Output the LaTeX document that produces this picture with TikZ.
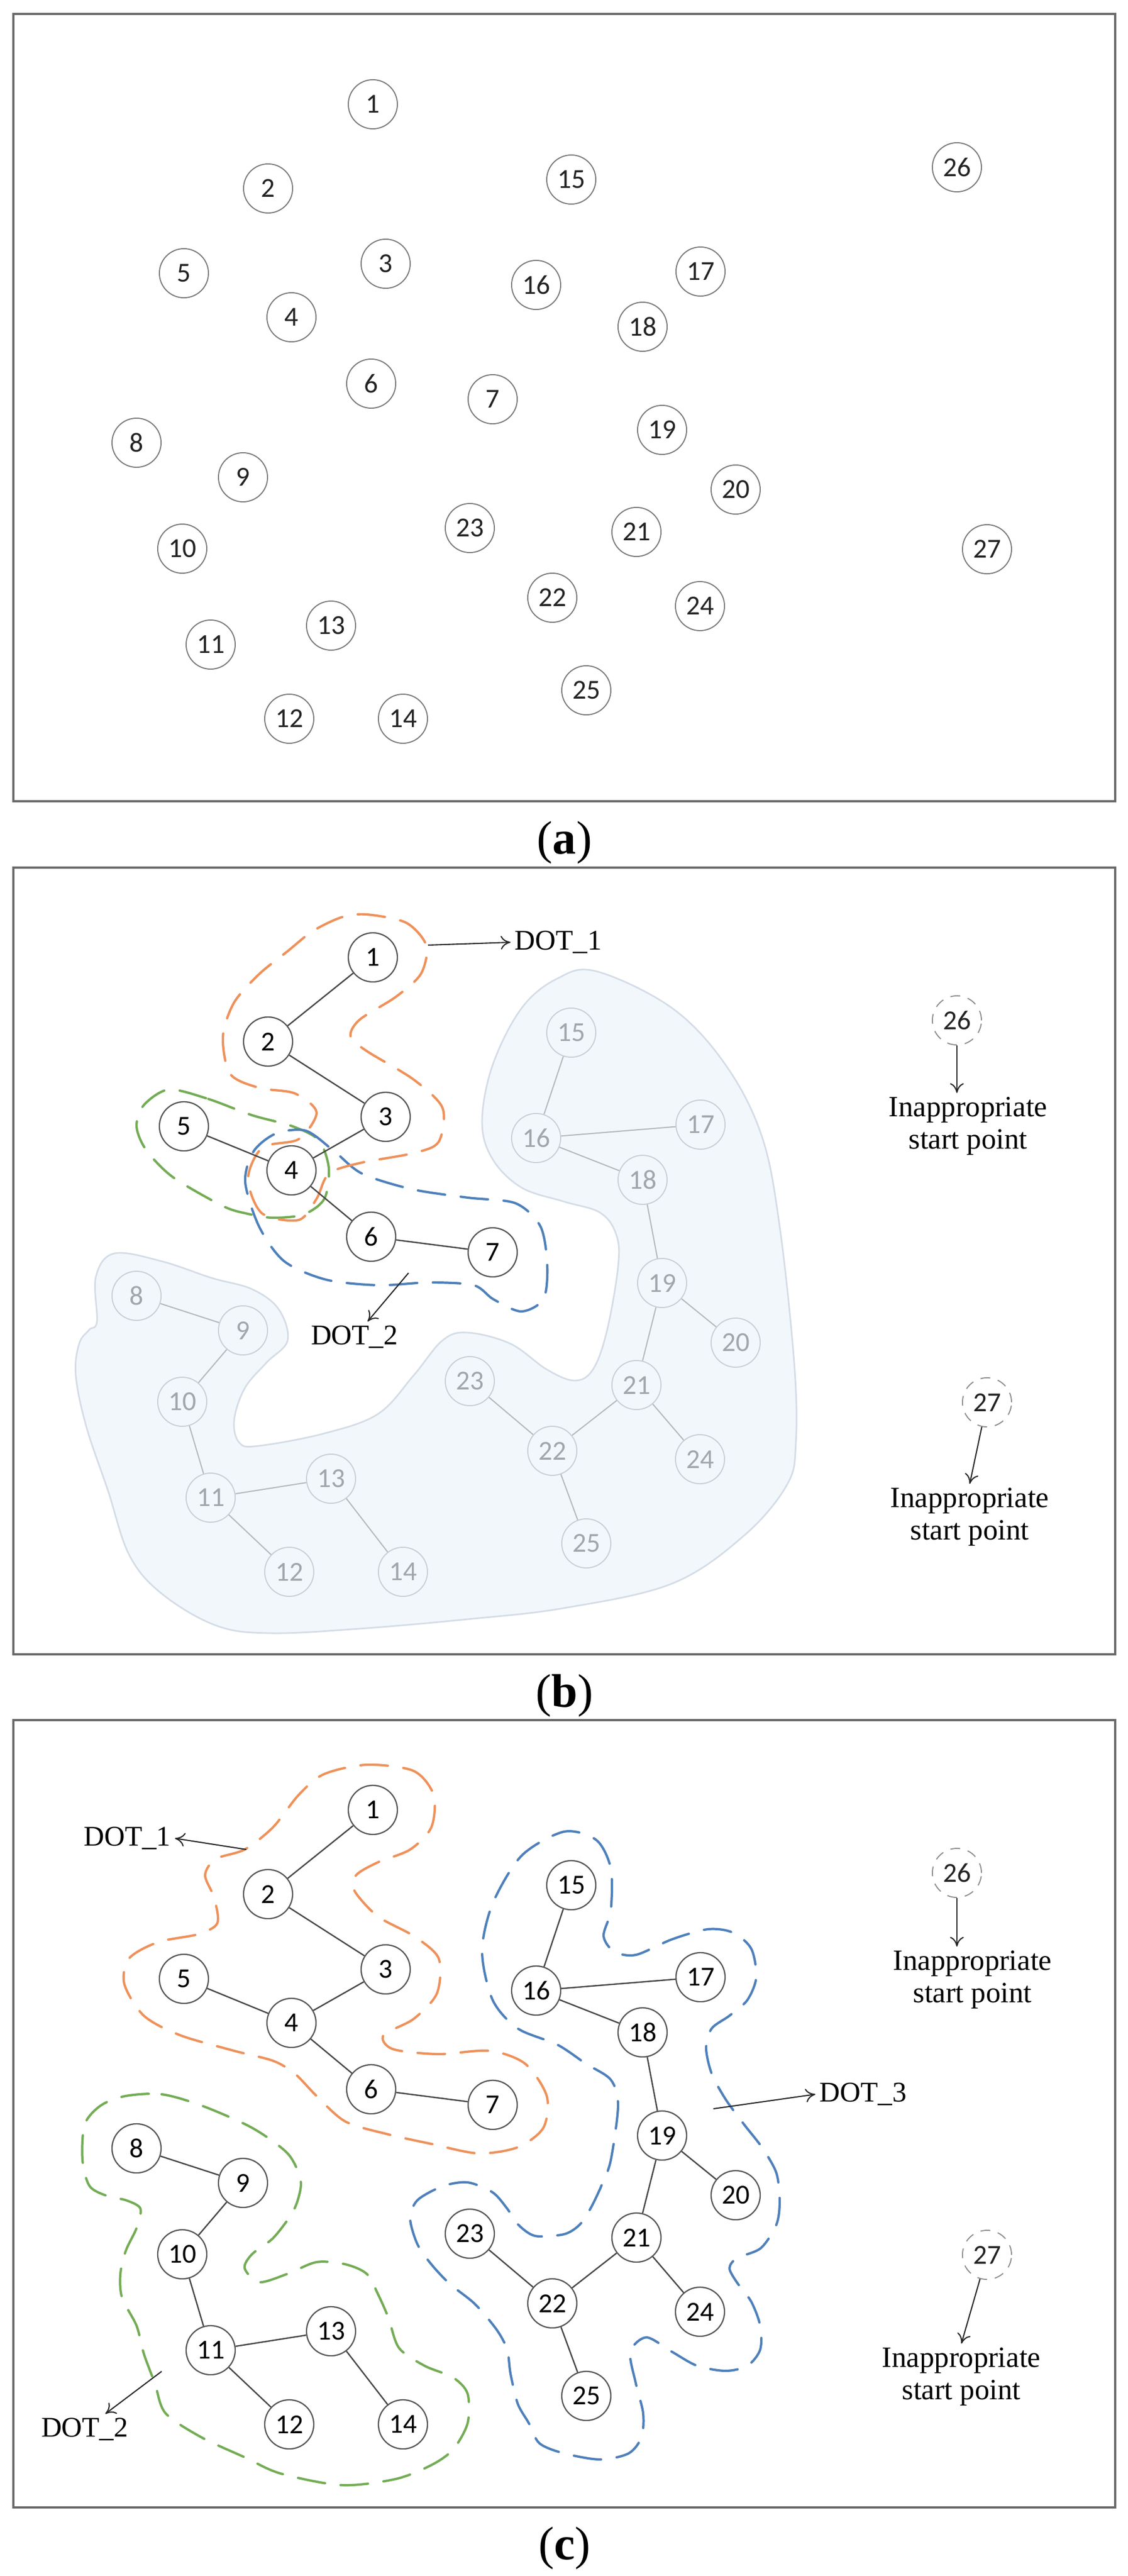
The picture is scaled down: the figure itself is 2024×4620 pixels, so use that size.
\documentclass[tikz,border=0pt]{standalone}
\usepackage{fontspec}
\setmainfont{Liberation Serif}
\newfontfamily\nodefont{Carlito}
\usetikzlibrary{arrows.meta}
\definecolor{dorange}{RGB}{238,145,90}
\definecolor{dgreen}{RGB}{115,172,85}
\definecolor{dblue}{RGB}{78,128,186}
\definecolor{blobfill}{RGB}{242,247,252}
\definecolor{blobline}{RGB}{212,220,230}
\definecolor{framecol}{RGB}{105,105,105}
\definecolor{acirc}{RGB}{120,120,120}
\definecolor{atext}{RGB}{35,35,35}
\definecolor{kcirc}{RGB}{85,85,85}
\definecolor{gcirc}{RGB}{200,206,212}
\definecolor{gtext}{RGB}{160,166,172}
\definecolor{icirc}{RGB}{140,140,140}
\definecolor{kline}{RGB}{70,70,70}
\definecolor{gline}{RGB}{180,185,190}
\tikzset{
 panelframe/.style={draw=framecol, line width=1.1pt},
 anode/.style={circle, draw=acirc, line width=0.55pt, minimum size=0.88cm, inner sep=0pt, font=\nodefont\fontsize{14}{14}\selectfont, text=atext},
 knode/.style={anode, draw=kcirc, fill=white, line width=0.65pt, text=black},
 gnode/.style={anode, draw=gcirc, text=gtext},
 inode/.style={anode, draw=icirc, dash pattern=on 5pt off 4pt},
 kedge/.style={draw=kline, line width=0.7pt},
 gedge/.style={draw=gline, line width=0.6pt},
 dloop/.style={line width=1.2pt, dash pattern=on 14pt off 8pt, line cap=round},
 lbltxt/.style={font=\fontsize{14.5}{14.5}\selectfont, inner sep=2pt},
 notetxt/.style={font=\fontsize{15}{16.5}\selectfont, align=center, inner sep=2pt},
 captxt/.style={font=\fontsize{24}{24}\selectfont, anchor=base, inner sep=0pt},
 darrow/.style={-{To[length=5pt,width=7pt]}, line width=0.6pt, draw=black!85},
}
\def\posdot{1/669/187,2/481/338,3/692/473,4/523/569,5/330/490,6/666/688,7/884/716}
\def\posrest{8/245/794,9/436/856,10/327/984,11/378/1156,12/519/1289,13/594/1122,14/723/1289,15/1025/322,16/962/511,17/1257/487,18/1153/586,19/1188/771,20/1320/878,21/1142/954,22/991/1072,23/843/947,24/1256/1087,25/1052/1238}
\def\posiso{26/1717/300,27/1771/985}
\def\edgesdot{1/2,2/3,3/4,5/4,4/6,6/7}
\def\edgesrest{8/9,9/10,10/11,11/13,11/12,13/14,15/16,16/17,16/18,18/19,19/20,19/21,21/22,21/24,22/23,22/25}
\begin{document}
\begin{tikzpicture}[x=0.01cm,y=-0.01cm]
\useasboundingbox (0,0) rectangle (2024,4620);
\fill[white] (0,0) rectangle (2024,4620);

% ---------------- panel (a)
\draw[panelframe] (24,25) rectangle (2001,1437);
\foreach \n/\x/\y in \posdot {\node[anode] (a\n) at (\x,\y) {\n};}
\foreach \n/\x/\y in \posrest {\node[anode] (a\n) at (\x,\y) {\n};}
\foreach \n/\x/\y in \posiso {\node[anode] (a\n) at (\x,\y) {\n};}
\node[captxt] (capa) at (1013,1531) {(\textbf{a})};

% ---------------- panel (b)
\draw[panelframe] (24,1556) rectangle (2001,2967);
\path[fill=blobfill, draw=blobline, line width=0.8pt] plot[smooth cycle, tension=0.6] coordinates {
(1070,1742) (1206,1808) (1302,1910) (1367,2038) (1399,2200) (1425,2444) (1428,2588) (1412,2663) (1335,2754) (1206,2840) (1012,2884) (839,2904) (645,2921) (484,2929) (387,2915) (290,2858) (232,2789) (194,2674) (155,2559) (136,2467) (142,2410) (160,2385) (174,2370) (172,2290) (205,2248) (290,2262) (380,2292) (452,2312) (500,2348) (516,2404) (478,2444) (439,2490) (420,2548) (430,2588) (465,2593) (581,2571) (678,2536) (742,2467) (794,2404) (839,2390) (916,2410) (981,2456) (1031,2476) (1064,2456) (1089,2387) (1109,2272) (1106,2215) (1077,2175) (1012,2155) (936,2130) (884,2079) (865,2012) (884,1910) (936,1808) (1000,1755)};
\begin{scope}[shift={(0,1530)}]
\foreach \n/\x/\y in \posrest {\node[gnode] (b\n) at (\x,\y) {\n};}
\foreach \u/\v in \edgesrest {\draw[gedge] (b\u) -- (b\v);}
\end{scope}
% dashed groups
\draw[dloop, draw=dgreen] plot[smooth cycle] coordinates {(303,1954) (374,1971) (452,2000) (525,2020) (572,2045) (590,2095) (582,2150) (545,2178) (490,2184) (445,2177) (400,2163) (310,2111) (262,2062) (245,2020) (258,1982)};
\draw[dloop, draw=dblue] plot[smooth cycle] coordinates {(495,2033) (549,2028) (600,2065) (650,2105) (740,2133) (840,2148) (925,2158) (970,2200) (982,2270) (975,2330) (935,2352) (885,2330) (850,2305) (770,2300) (680,2305) (585,2295) (510,2262) (465,2200) (440,2120) (455,2065)};
\draw[dloop, draw=dorange] plot[smooth cycle] coordinates {(658,1640) (729,1655) (765,1696) (755,1747) (710,1788) (645,1829) (629,1859) (658,1885) (742,1936) (794,1987) (787,2048) (742,2068) (645,2086) (590,2105) (568,2150) (536,2188) (470,2176) (445,2114) (471,2058) (536,2043) (568,1995) (529,1961) (465,1951) (413,1926) (400,1859) (420,1798) (465,1747) (516,1706) (561,1670) (613,1645)};
\begin{scope}[shift={(0,1530)}]
\foreach \n/\x/\y in \posdot {\node[knode] (b\n) at (\x,\y) {\n};}
\foreach \u/\v in \edgesdot {\draw[kedge] (b\u) -- (b\v);}
\foreach \n/\x/\y in \posiso {\node[inode] (b\n) at (\x,\y) {\n};}
\end{scope}
\node[notetxt] (b26t) at (1737,2020) {Inappropriate\\start point};
\node[notetxt] (b27t) at (1740,2721) {Inappropriate\\start point};
\draw[darrow] (b26) -- (b26 |- b26t.north);
\draw[darrow] (b27) -- (b27t.north);
\coordinate (bd1s) at (768,1695);
\node[lbltxt, anchor=west] (bd1) at (916,1690) {DOT\_1};
\draw[darrow] (bd1s) -- (bd1.west);
\coordinate (bd2s) at (733,2283);
\node[lbltxt] (bd2) at (636,2398) {DOT\_2};
\draw[darrow] (bd2s) -- (bd2);
\node[captxt] (capb) at (1013,3061) {(\textbf{b})};

% ---------------- panel (c)
\draw[panelframe] (24,3085) rectangle (2001,4497);
\draw[dloop, draw=dorange] plot[smooth cycle] coordinates {(658,3165) (742,3176) (778,3219) (774,3277) (736,3317) (678,3340) (639,3363) (636,3391) (678,3437) (742,3472) (787,3512) (784,3575) (742,3621) (688,3650) (705,3675) (787,3684) (878,3678) (942,3701) (981,3759) (975,3816) (929,3851) (858,3862) (774,3845) (697,3828) (620,3805) (568,3759) (529,3719) (490,3696) (420,3678) (323,3650) (258,3615) (223,3558) (232,3512) (284,3483) (355,3469) (390,3449) (384,3403) (368,3363) (387,3334) (439,3317) (490,3277) (536,3219) (581,3182)};
\draw[dloop, draw=dblue] plot[smooth cycle] coordinates {(1012,3285) (1070,3300) (1096,3351) (1096,3426) (1083,3472) (1102,3500) (1141,3506) (1206,3478) (1270,3460) (1315,3466) (1348,3495) (1357,3546) (1341,3587) (1309,3615) (1277,3638) (1267,3673) (1277,3719) (1302,3765) (1335,3810) (1367,3851) (1393,3897) (1399,3948) (1393,3990) (1365,4032) (1322,4050) (1309,4068) (1322,4093) (1348,4128) (1364,4171) (1364,4214) (1341,4243) (1302,4252) (1251,4243) (1206,4218) (1160,4192) (1131,4218) (1141,4275) (1154,4328) (1151,4371) (1128,4400) (1077,4411) (1012,4400) (968,4382) (949,4346) (929,4311) (916,4257) (910,4214) (891,4178) (852,4132) (807,4096) (774,4061) (749,4025) (736,3979) (749,3946) (794,3921) (839,3914) (884,3932) (910,3961) (929,3989) (960,4010) (1012,4007) (1040,3990) (1060,3960) (1080,3918) (1096,3874) (1109,3776) (1096,3730) (1051,3701) (1000,3667) (929,3638) (884,3587) (865,3500) (884,3414) (936,3328)};
\draw[dloop, draw=dgreen] plot[smooth cycle] coordinates {(226,3759) (290,3756) (361,3776) (452,3816) (516,3862) (539,3908) (536,3940) (523,3971) (490,4014) (452,4043) (439,4068) (465,4093) (516,4078) (568,4057) (620,4061) (658,4078) (678,4114) (697,4157) (716,4211) (762,4243) (813,4264) (839,4293) (839,4346) (813,4393) (774,4421) (710,4446) (613,4457) (503,4436) (439,4407) (361,4371) (297,4328) (278,4275) (258,4221) (245,4171) (219,4121) (216,4078) (226,4036) (245,3996) (252,3961) (226,3946) (194,3939) (161,3921) (148,3874) (152,3810) (181,3776)};
\begin{scope}[shift={(0,3059)}]
\foreach \n/\x/\y in \posdot {\node[knode] (c\n) at (\x,\y) {\n};}
\foreach \n/\x/\y in \posrest {\node[knode] (c\n) at (\x,\y) {\n};}
\foreach \n/\x/\y in \posiso {\node[inode] (c\n) at (\x,\y) {\n};}
\foreach \u/\v in \edgesdot {\draw[kedge] (c\u) -- (c\v);}
\foreach \u/\v in \edgesrest {\draw[kedge] (c\u) -- (c\v);}
\end{scope}
\node[notetxt] (c26t) at (1745,3551) {Inappropriate\\start point};
\node[notetxt] (c27t) at (1725,4263) {Inappropriate\\start point};
\draw[darrow] (c26) -- (c26 |- c26t.north);
\draw[darrow] (c27) -- (c27t.north);
\coordinate (cd1s) at (442,3317);
\node[lbltxt, anchor=east] (cd1) at (314,3297) {DOT\_1};
\draw[darrow] (cd1s) -- (cd1.east);
\coordinate (cd2s) at (290,4253);
\node[lbltxt] (cd2) at (152,4357) {DOT\_2};
\draw[darrow] (cd2s) -- (cd2);
\coordinate (cd3s) at (1280,3782);
\node[lbltxt, anchor=west] (cd3) at (1463,3756) {DOT\_3};
\draw[darrow] (cd3s) -- (cd3.west);
\node[captxt] (capc) at (1013,4590) {(\textbf{c})};
\end{tikzpicture}
\end{document}
